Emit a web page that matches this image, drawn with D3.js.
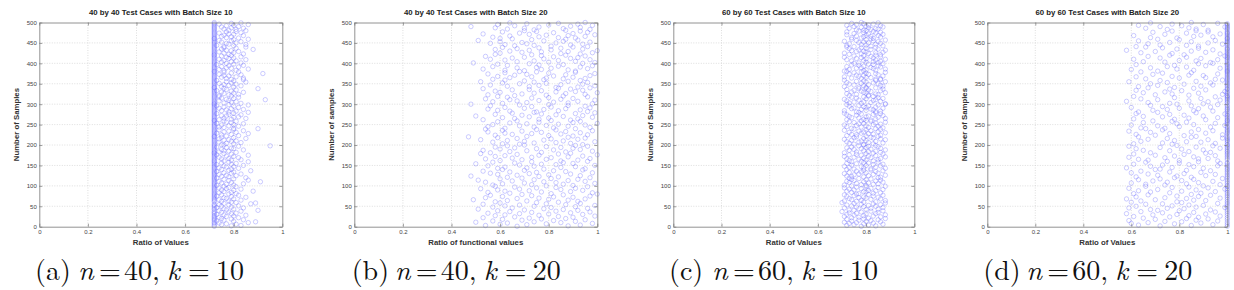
<!DOCTYPE html>
<html><head><meta charset="utf-8">
<script src="https://cdn.jsdelivr.net/npm/d3@7/dist/d3.min.js"></script>
<style>body{margin:0;background:#fff}svg{display:block}</style>
</head><body>
<svg id="chart" width="1234" height="290"></svg>
<script>
// ---------- DATA ----------
const titles = [
  "40 by 40 Test Cases with Batch Size 10",
  "40 by 40 Test Cases with Batch Size 20",
  "60 by 60 Test Cases with Batch Size 10",
  "60 by 60 Test Cases with Batch Size 20"
];
const xLabels = ["Ratio of Values", "Ratio of functional values", "Ratio of Values", "Ratio of Values"];
const yLabels = ["Number of Samples", "Number of samples", "Number of Samples", "Number of Samples"];
const captionLetters = ["a", "b", "c", "d"];
const captionN = [40, 40, 60, 60];
const captionK = [10, 20, 10, 20];
const xTicks = [0, 0.2, 0.4, 0.6, 0.8, 1];
const xTickLabels = ["0", "0.2", "0.4", "0.6", "0.8", "1"];
const yTicks = [0, 50, 100, 150, 200, 250, 300, 350, 400, 450, 500];

// ratio of values (in percent) for samples 1..500, in sample order
const ratioA_pct = [
72,79,83,72,75,81,77,72,74,86,72,89,80,73,72,76,84,72,79,75,
72,82,74,72,77,80,72,85,76,73,72,79,81,72,75,78,72,83,74,90,
77,72,80,76,72,84,73,79,72,75,82,72,78,74,72,87,76,89,81,79,
72,75,78,72,83,74,72,80,77,72,76,85,72,79,73,72,82,75,72,78,
81,72,74,79,72,76,88,72,80,75,72,83,77,72,74,78,72,81,76,72,
73,80,72,77,84,72,75,79,72,91,74,72,78,86,72,76,80,72,73,85,
72,78,75,72,81,77,72,74,83,72,79,76,72,80,73,72,87,78,72,75,
79,72,82,74,72,77,80,72,76,84,72,73,79,72,81,75,72,78,86,72,
76,72,79,83,72,75,78,72,82,74,72,80,77,72,86,73,72,79,76,72,
72,81,74,72,78,76,72,84,75,72,80,79,72,77,73,72,82,95,72,76,
75,72,80,77,72,83,74,72,79,81,72,76,78,72,74,85,72,80,75,72,
72,77,82,72,75,79,72,86,73,72,81,76,72,78,84,72,74,80,72,90,
80,72,76,74,72,82,78,72,75,80,72,84,73,72,79,77,72,81,76,72,
72,74,79,72,85,76,72,80,82,72,77,75,72,83,78,72,73,80,72,86,
78,72,81,75,72,77,84,72,79,74,72,82,76,72,80,73,72,86,78,72,
72,83,76,72,79,81,72,74,78,72,93,77,72,80,75,72,82,74,72,79,
74,72,78,82,72,76,80,72,84,75,72,79,73,72,81,77,72,90,76,72,
72,80,75,72,83,78,72,76,81,72,74,79,72,85,77,72,80,73,72,84,
79,72,77,84,72,75,81,72,78,76,72,83,74,72,92,79,72,76,82,72,
72,76,81,72,74,86,72,79,77,72,82,75,72,78,84,72,73,80,72,77,
83,72,75,79,72,81,76,72,85,74,72,78,80,72,77,83,72,75,79,72,
72,78,84,72,76,80,72,74,82,72,79,77,72,88,75,72,81,76,72,85,
76,72,80,73,72,85,78,72,77,81,72,75,83,72,79,74,72,80,86,72,
72,82,77,72,79,75,72,84,76,72,80,78,72,74,83,72,77,81,72,85,
78,72,81,76,72,84,79,72,75,82,72,77,80,72,86,74,72,79,83,72
];
const ratioB_pct = [
67,88,54,93,71,60,79,98,63,85,50,74,91,57,82,69,95,61,77,87,
72,53,90,66,84,99,58,76,62,94,80,68,55,89,73,97,64,83,59,92,
70,86,51,78,96,65,81,57,91,74,62,99,68,87,53,79,93,60,75,84,
58,92,71,63,88,49,80,95,67,76,54,90,82,61,97,73,56,86,69,100,
81,64,98,55,77,89,62,72,94,59,85,68,52,91,75,83,66,96,58,79,
90,57,73,86,61,99,70,83,54,78,95,65,88,51,74,92,60,81,69,97,
63,84,76,48,93,67,80,59,89,72,56,98,75,64,87,53,82,70,94,61,
78,95,59,71,85,62,91,74,55,99,68,83,77,50,90,66,86,57,73,96,
85,60,92,69,79,54,97,65,81,73,88,58,94,62,76,100,67,84,52,89,
56,77,87,64,98,71,53,82,93,60,75,90,66,85,58,79,96,63,91,70,
94,68,61,89,74,83,57,99,70,86,63,78,52,92,81,67,95,59,88,47,
71,90,80,58,96,65,85,73,62,93,77,55,87,69,98,61,83,75,54,91,
62,82,97,74,55,88,68,79,95,57,84,71,100,64,90,76,59,93,67,81,
89,53,76,92,66,80,61,98,72,86,50,94,69,83,58,77,91,65,99,74,
75,96,64,84,59,93,78,55,87,70,97,62,81,73,95,56,88,68,80,48,
98,61,88,71,82,57,92,67,76,99,64,85,54,90,73,80,63,96,59,86,
66,79,55,95,69,87,74,100,60,83,91,58,77,94,65,72,89,53,84,97,
83,92,72,63,99,76,56,85,94,68,79,61,96,74,52,88,70,93,62,78,
57,86,95,79,64,90,73,59,82,97,66,87,71,55,99,80,62,91,75,68,
91,70,62,88,77,53,96,81,67,75,93,57,84,98,63,76,86,59,72,94,
49,99,80,67,91,74,84,62,97,56,78,89,65,92,70,82,54,95,77,87,
73,58,93,85,60,98,69,77,88,64,100,72,81,58,94,67,85,76,61,90,
96,81,66,74,89,62,94,71,56,83,69,97,60,86,78,51,92,73,87,65,
60,91,84,57,76,95,64,88,79,99,72,53,90,68,82,96,61,75,93,70,
87,74,97,63,86,70,58,93,76,48,89,66,98,80,59,92,71,84,64,95
];
const ratioC_pct = [
78,84,72,81,75,87,79,73,83,76,71,86,80,74,82,77,85,72,79,88,
81,74,77,86,71,83,79,75,88,72,80,84,76,73,85,78,70,82,87,75,
73,80,85,77,82,71,87,76,79,84,74,81,72,86,78,83,75,88,70,79,
84,76,71,88,78,74,82,86,73,80,77,85,79,72,83,75,87,71,81,76,
77,83,86,74,80,79,72,84,81,75,87,73,78,82,71,85,76,80,88,74,
80,71,78,83,85,76,81,73,87,79,72,84,75,86,80,74,82,77,73,85,
86,79,74,72,81,88,75,83,77,71,85,80,73,78,84,76,87,79,82,72,
75,82,88,79,73,84,78,71,86,80,74,83,87,76,72,81,79,85,74,78,
83,73,80,85,77,72,86,79,82,75,88,71,81,84,78,73,76,87,80,83,
71,86,76,81,84,79,73,88,75,82,78,86,72,80,74,85,81,77,84,79,
79,75,83,73,87,81,77,72,84,78,80,74,88,71,86,79,83,75,82,76,
85,80,72,86,76,74,83,81,78,88,73,79,85,77,82,71,80,86,75,84,
74,87,81,78,72,85,80,76,71,83,86,77,79,84,75,88,73,82,78,80,
82,72,79,84,88,77,74,85,80,73,81,87,76,72,83,78,86,71,84,77,
76,84,86,71,80,83,78,82,74,87,75,80,84,79,73,81,77,85,72,88,
88,78,73,82,75,79,86,72,83,77,84,71,80,87,76,85,74,79,83,81,
73,81,85,76,84,72,80,88,79,74,82,78,86,75,81,72,87,77,80,84,
80,77,71,87,79,86,75,81,73,85,78,83,72,80,88,76,79,84,71,86,
84,86,78,74,82,80,71,77,87,79,76,85,81,73,84,80,75,88,78,72,
71,79,84,80,73,88,83,76,78,82,86,72,79,85,77,74,83,81,87,75,
77,85,80,83,86,74,79,84,72,88,80,76,83,78,71,86,82,75,79,84,
86,73,78,81,71,84,87,80,76,79,74,88,77,82,85,73,80,78,84,72,
75,82,87,72,80,78,84,73,86,81,77,79,85,71,83,76,88,80,74,82,
83,78,74,86,79,82,76,85,80,72,87,81,75,84,79,86,72,83,77,80,
79,76,82,85,84,73,81,78,87,75,80,86,72,81,76,83,79,74,85,78
];
const ratioD_pct = [
100,72,85,63,94,100,78,60,89,67,100,81,74,96,59,87,100,70,92,83,
65,100,88,76,61,97,84,100,69,79,91,58,100,73,86,95,64,100,80,71,
93,68,100,82,75,59,99,87,100,62,77,90,84,100,66,73,96,100,81,60,
79,100,64,91,86,70,100,58,83,97,74,100,62,88,79,100,93,67,85,100,
61,89,76,100,68,95,81,63,100,87,71,99,100,59,92,77,84,100,66,90,
100,74,97,66,83,100,60,88,75,100,94,69,81,100,63,86,72,98,100,78,
85,62,100,79,91,71,100,95,67,82,100,60,89,76,100,64,93,83,100,70,
72,100,90,58,77,100,86,68,96,100,73,84,61,100,97,80,100,66,88,75,
96,80,67,100,63,88,92,100,74,59,86,100,78,95,70,100,82,61,100,91,
68,93,100,84,100,76,65,90,100,81,62,97,100,72,87,100,59,94,79,100,
100,77,61,95,73,100,89,83,64,100,78,100,92,67,100,75,98,100,85,63,
87,100,82,70,98,62,100,76,91,100,68,85,100,59,94,100,73,88,100,66,
74,64,100,93,80,100,71,99,60,86,100,79,95,100,65,83,100,77,69,100,
100,91,78,61,100,84,96,100,73,65,90,100,82,100,76,99,62,100,87,71,
63,100,94,86,69,100,75,100,88,80,100,60,93,73,100,85,68,100,96,79,
90,76,100,67,100,92,58,84,100,97,71,100,64,89,100,78,100,95,61,100,
100,84,70,98,77,100,88,65,100,74,99,100,81,62,91,100,76,100,86,67,
78,100,63,89,100,71,94,100,82,68,100,93,75,100,59,87,100,72,98,100,
95,66,100,80,91,100,62,77,100,90,84,100,69,96,100,73,85,100,64,100,
71,100,86,100,60,79,100,97,68,100,83,75,100,91,78,100,62,100,88,94,
100,93,74,65,100,87,80,100,96,61,100,89,72,100,83,100,67,99,100,76,
82,100,97,77,100,64,91,100,70,85,100,58,94,100,79,100,88,73,100,66,
62,88,100,83,72,100,98,67,100,92,76,100,85,100,63,95,100,80,71,100,
100,79,68,100,94,86,100,61,89,100,74,97,100,83,100,69,92,100,77,87,
92,100,75,87,100,66,84,100,99,72,100,81,63,100,90,77,100,96,68,85
];
const seriesData = [ratioA_pct, ratioB_pct, ratioC_pct, ratioD_pct];

// ---------- LAYOUT ----------
const panels = [
  { left: 39.3,  right: 282.3,  capStart: 35 },
  { left: 354.3, right: 597.3,  capStart: 351.7 },
  { left: 673.3, right: 914.3,  capStart: 669 },
  { left: 987.3, right: 1227.3, capStart: 983.3 }
];
const plotTop = 22.5, plotBottom = 226.7;
const capFont = "'Latin Modern Roman', 'Liberation Serif', 'DejaVu Serif', serif";

const svg = d3.select("#chart");
svg.append("rect").attr("width", 1234).attr("height", 290).attr("fill", "#fff");

panels.forEach((p, i) => {
  const x = d3.scaleLinear().domain([0, 1]).range([p.left, p.right]);
  const y = d3.scaleLinear().domain([0, 500]).range([plotBottom, plotTop]);
  const g = svg.append("g");
  const cx = (p.left + p.right) / 2;

  // grid
  g.append("g").selectAll("line").data(xTicks.slice(1, -1)).join("line")
    .attr("x1", d => x(d)).attr("x2", d => x(d))
    .attr("y1", plotTop).attr("y2", plotBottom)
    .attr("stroke", "#d0d0d0").attr("stroke-width", 0.7).attr("stroke-dasharray", "1,1.5");
  g.append("g").selectAll("line").data(yTicks.slice(1, -1)).join("line")
    .attr("y1", d => y(d)).attr("y2", d => y(d))
    .attr("x1", p.left).attr("x2", p.right)
    .attr("stroke", "#d0d0d0").attr("stroke-width", 0.7).attr("stroke-dasharray", "1,1.5");

  // points
  g.append("g").selectAll("circle").data(seriesData[i]).join("circle")
    .attr("cx", d => x(d / 100))
    .attr("cy", (d, j) => y(j + 1))
    .attr("r", 2.2)
    .attr("fill", "none")
    .attr("stroke", "#4a4aff")
    .attr("stroke-opacity", 0.33)
    .attr("stroke-width", 0.85);

  // axes
  const axL = g.append("g").attr("transform", `translate(${p.left},0)`)
    .call(d3.axisLeft(y).tickValues(yTicks).tickSize(-3).tickSizeOuter(0).tickPadding(2.5));
  const axB = g.append("g").attr("transform", `translate(0,${plotBottom})`)
    .call(d3.axisBottom(x).tickValues(xTicks).tickFormat((d, k) => xTickLabels[k]).tickSize(-3).tickSizeOuter(0).tickPadding(3));
  const axR = g.append("g").attr("transform", `translate(${p.right},0)`)
    .call(d3.axisRight(y).tickValues(yTicks).tickFormat("").tickSize(-3).tickSizeOuter(0));
  const axT = g.append("g").attr("transform", `translate(0,${plotTop})`)
    .call(d3.axisTop(x).tickValues(xTicks).tickFormat("").tickSize(-3).tickSizeOuter(0));
  [axL, axB, axR, axT].forEach(a => {
    a.selectAll("path").attr("stroke", "#777").attr("stroke-width", 0.8);
    a.selectAll("line").attr("stroke", "#777").attr("stroke-width", 0.7);
    a.selectAll("text").attr("font-family", "'Liberation Sans', Arial, sans-serif")
      .attr("font-size", 6).attr("fill", "#444");
  });

  // title
  g.append("text").attr("x", cx).attr("y", 14.5).attr("text-anchor", "middle")
    .attr("font-family", "'Liberation Sans', Arial, sans-serif").attr("font-weight", "bold")
    .attr("font-size", 7.8).attr("fill", "#222").text(titles[i]);
  // x label
  g.append("text").attr("x", cx).attr("y", 243).attr("text-anchor", "middle")
    .attr("dominant-baseline", "middle")
    .attr("font-family", "'Liberation Sans', Arial, sans-serif").attr("font-weight", "bold")
    .attr("font-size", 7.8).attr("fill", "#333").text(xLabels[i]);
  // y label
  g.append("text")
    .attr("transform", `translate(${p.left - 22.6},${(plotTop + plotBottom) / 2}) rotate(-90)`)
    .attr("text-anchor", "middle").attr("dominant-baseline", "middle")
    .attr("font-family", "'Liberation Sans', Arial, sans-serif").attr("font-weight", "bold")
    .attr("font-size", 7.8).attr("fill", "#333").text(yLabels[i]);

  // caption, math-style spacing
  const cap = g.append("text").attr("y", 280)
    .attr("font-family", capFont).attr("font-size", 28).attr("fill", "#111");
  const s = p.capStart;
  cap.append("tspan").attr("x", s).text(`(${captionLetters[i]})`);
  cap.append("tspan").attr("x", s + 43).attr("font-style", "italic").text("n");
  cap.append("tspan").attr("x", s + 64).text("=");
  cap.append("tspan").attr("x", s + 89).text(`${captionN[i]},`);
  cap.append("tspan").attr("x", s + 132).attr("font-style", "italic").text("k");
  cap.append("tspan").attr("x", s + 153).text("=");
  cap.append("tspan").attr("x", s + 181).text(`${captionK[i]}`);
});
</script>
</body></html>
